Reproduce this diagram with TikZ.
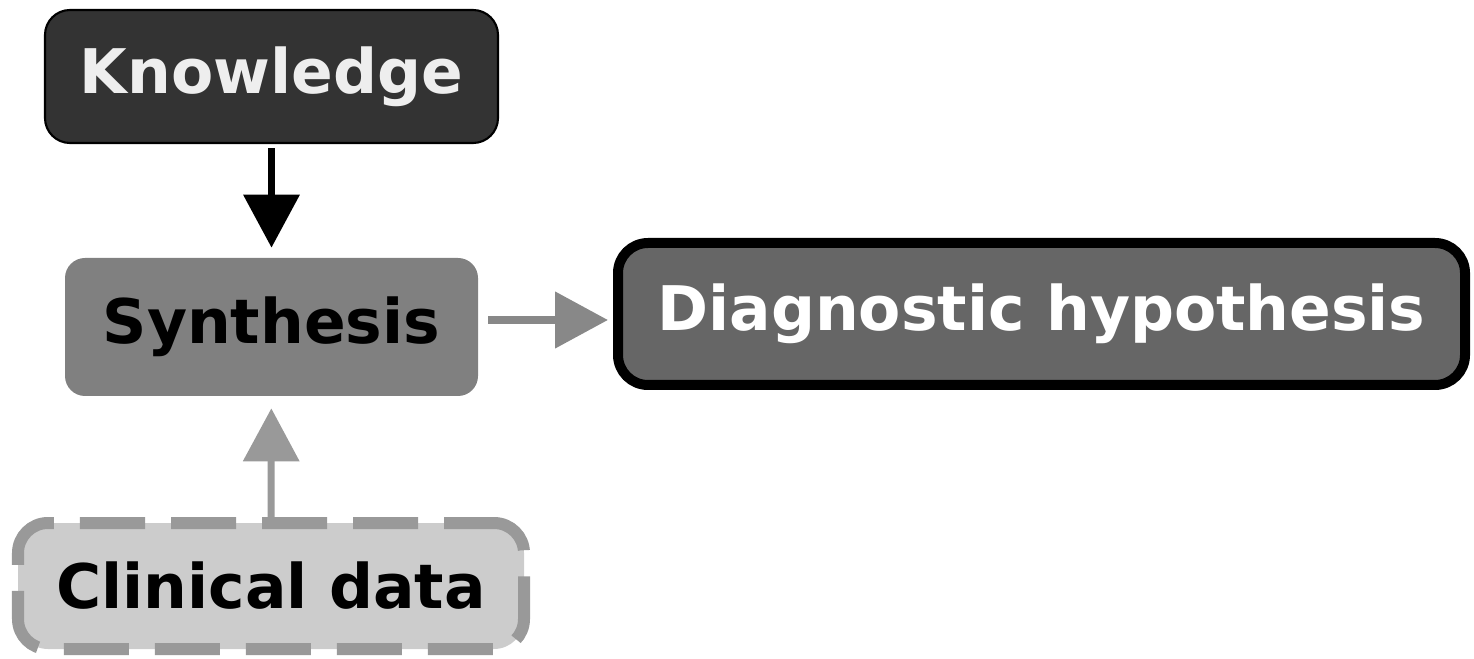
\documentclass[tikz,border=0pt]{standalone}
\usepackage{fontspec}
\setmainfont{DejaVu Sans}
\usepackage{tikz}
\usetikzlibrary{arrows.meta,positioning}
\definecolor{knowfill}{HTML}{333333}
\definecolor{knowtext}{HTML}{EEEEEE}
\definecolor{synthfill}{HTML}{808080}
\definecolor{diagfill}{HTML}{666666}
\definecolor{clinfill}{HTML}{CCCCCC}
\definecolor{clinline}{HTML}{999999}
\definecolor{flowgray}{HTML}{888888}

\begin{document}
\begin{tikzpicture}[box/.style={rounded corners=0.5cm, align=center, inner sep=0pt,
                                font=\fontsize{35}{42}\selectfont\bfseries},
                    flow/.style={line width=#1, -{Triangle[length=1.06cm, width=1.1cm]}}]
    \useasboundingbox (0,0) rectangle (29.48,13.16);
    \node[box, fill=knowfill, draw=black, line width=1.2pt, text=knowtext,
          minimum width=9.06cm, minimum height=2.66cm] (know) at (5.43,11.63) {Knowledge};
    \node[box, fill=synthfill, rounded corners=0.4cm,
          minimum width=8.26cm, minimum height=2.76cm] (synth) at (5.43,6.62) {Synthesis};
    \node[box, fill=diagfill, draw=black, line width=0.2cm, text=white, rounded corners=0.6cm,
          minimum width=16.94cm, minimum height=2.84cm] (diag) at (20.83,6.88) {Diagnostic hypothesis};
    \node[box, fill=clinfill, draw=clinline, line width=0.24cm, rounded corners=0.6cm,
          dash pattern=on 1.3cm off 0.52cm, dash phase=0.3cm,
          minimum width=10.12cm, minimum height=2.52cm] (clin) at (5.42,1.44) {Clinical data};

    \draw[flow=0.14cm, black, shorten <=0.08cm, shorten >=0.2cm] (know) -- (synth);
    \draw[flow=0.16cm, flowgray, shorten <=0.2cm, shorten >=0.1cm]
        ([yshift=0.14cm]synth.east) -- ([yshift=0.14cm]synth.east -| diag.west);
    \draw[flow=0.14cm, clinline, shorten >=0.24cm] (clin) -- (synth);
\end{tikzpicture}
\end{document}
